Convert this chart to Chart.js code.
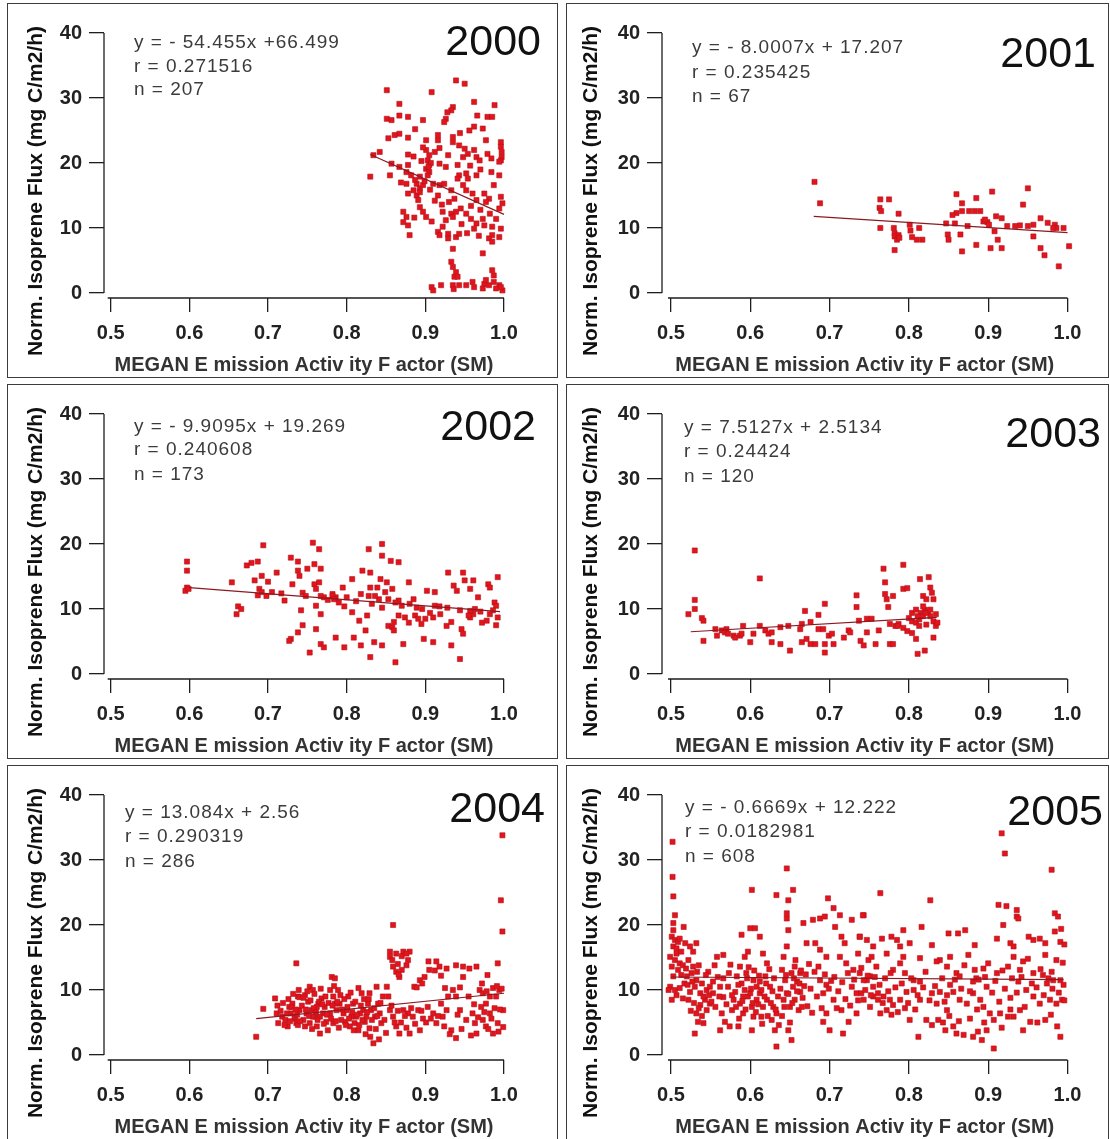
<!DOCTYPE html>
<html>
<head>
<meta charset="utf-8">
<title>Isoprene flux vs MEGAN emission activity factor</title>
<script src="https://cdn.jsdelivr.net/npm/chart.js@4.4.1/dist/chart.umd.min.js"></script>
<style>
body { margin: 0; background: #fff; width: 1110px; height: 1139px; overflow: hidden; position: relative; }
.panel { position: absolute; border: 1px solid #3c3c3c; background: #fff; }
.panel canvas { display: block; }
</style>
</head>
<body>
<script>
// labels
const years = ['2000', '2001', '2002', '2003', '2004', '2005'];
const eqLabels = ['y = - 54.455x +66.499', 'y = - 8.0007x + 17.207', 'y = - 9.9095x + 19.269',
                  'y = 7.5127x + 2.5134', 'y = 13.084x + 2.56', 'y = - 0.6669x + 12.222'];
const rLabels = ['r = 0.271516', 'r = 0.235425', 'r = 0.240608', 'r = 0.24424', 'r = 0.290319', 'r = 0.0182981'];
const nLabels = ['n = 207', 'n = 67', 'n = 173', 'n = 120', 'n = 286', 'n = 608'];
const xTicks = [0.5, 0.6, 0.7, 0.8, 0.9, 1.0];
const yTicks = [0, 10, 20, 30, 40];
const xTitle = 'MEGAN E mission Activ ity F actor (SM)';
const yTitle = 'Norm. Isoprene Flux (mg C/m2/h)';

// regression lines (start / end)
const fit2000 = [[0.83, 21.3], [1.0, 12.1]];
const fit2001 = [[0.68, 11.8], [1.0, 9.3]];
const fit2002 = [[0.6, 13.3], [0.995, 9.6]];
const fit2003 = [[0.525, 6.5], [0.835, 8.7]];
const fit2004 = [[0.685, 5.6], [1.0, 9.5]];
const fit2005 = [[0.5, 12.0], [0.995, 11.6]];

// points [activity factor, flux]
const pts2000 = [[0.939,32.7],[0.950,32.2],[0.851,31.2],[0.908,30.9],[0.867,29.1],[0.935,28.6],[0.933,28.1],[0.962,29.4],[0.988,28.9],[0.867,27.3],[0.878,27.1],[0.926,26.8],[0.924,26.3],[0.966,27.3],[0.979,27.1],[0.985,27.1],[0.851,26.8],[0.857,26.6],[0.962,25.6],[0.973,25.3],[0.867,24.5],[0.861,24.3],[0.853,23.8],[0.878,23.9],[0.901,23.5],[0.916,24.3],[0.916,23.5],[0.935,24.0],[0.935,23.2],[0.977,23.5],[0.996,23.2],[0.996,22.5],[0.997,21.7],[0.997,20.9],[0.996,20.4],[0.834,21.2],[0.842,21.7],[0.878,21.3],[0.901,22.0],[0.905,21.2],[0.903,20.4],[0.905,19.7],[0.901,19.1],[0.905,18.6],[0.903,18.1],[0.918,22.3],[0.912,21.7],[0.929,21.2],[0.943,22.7],[0.950,22.2],[0.954,21.4],[0.948,20.9],[0.962,22.0],[0.965,20.9],[0.969,20.4],[0.979,21.4],[0.984,20.7],[0.994,20.2],[0.857,19.9],[0.867,19.4],[0.876,18.6],[0.882,18.1],[0.893,17.9],[0.830,17.9],[0.855,18.1],[0.878,19.7],[0.918,19.9],[0.926,19.4],[0.941,19.7],[0.952,18.4],[0.943,18.1],[0.941,17.6],[0.954,17.6],[0.965,18.1],[0.984,18.6],[0.994,18.1],[0.876,16.8],[0.889,16.8],[0.893,16.1],[0.897,16.6],[0.910,16.8],[0.918,16.6],[0.924,16.8],[0.878,15.3],[0.889,15.0],[0.893,15.5],[0.891,14.3],[0.916,15.0],[0.933,15.8],[0.937,14.5],[0.948,16.6],[0.952,15.8],[0.960,15.3],[0.965,14.3],[0.975,15.3],[0.981,14.5],[0.977,14.0],[0.996,14.8],[0.998,13.8],[0.994,13.0],[0.872,12.5],[0.876,11.7],[0.872,10.9],[0.878,10.4],[0.893,13.2],[0.897,12.5],[0.901,11.7],[0.922,12.5],[0.926,11.2],[0.933,12.2],[0.939,12.5],[0.935,11.7],[0.958,11.4],[0.965,10.7],[0.962,9.9],[0.973,11.4],[0.975,10.4],[0.985,10.2],[0.996,9.9],[0.985,8.9],[0.994,8.6],[0.880,8.9],[0.916,9.4],[0.918,8.9],[0.929,9.1],[0.929,8.4],[0.939,8.6],[0.943,9.1],[0.981,8.4],[0.985,7.9],[0.935,6.8],[0.973,6.1],[0.933,4.8],[0.935,4.0],[0.939,3.2],[0.937,2.5],[0.941,2.5],[0.985,3.5],[0.987,2.7],[0.908,0.9],[0.910,0.4],[0.920,1.2],[0.935,1.2],[0.943,1.2],[0.960,1.7],[0.962,0.9],[0.975,1.4],[0.981,1.2],[0.987,1.7],[0.994,1.2],[0.998,0.4],[0.973,0.7],[0.977,2.0],[0.996,0.9],
[0.885,21.0],[0.895,20.3],[0.897,22.4],[0.907,20.0],[0.904,19.4],[0.899,17.2],[0.887,17.4],[0.869,17.0],[0.885,15.8],[0.906,15.9],[0.912,14.2],[0.921,13.6],[0.930,14.0],[0.945,13.0],[0.952,12.2],[0.958,13.4],[0.970,12.8],[0.982,12.2],[0.990,11.4],[0.946,10.6],[0.953,9.2],[0.968,8.8],[0.922,10.2],[0.908,11.0],[0.886,11.6],[0.956,25.0],[0.944,24.6],[0.928,27.8],[0.897,26.6],[0.887,25.2],[0.957,19.6],[0.970,19.0],[0.987,16.6],[0.936,0.6],[0.952,1.2],[0.990,0.7]];

const pts2001 = [[0.681,17.1],[0.688,13.8],[0.764,14.4],[0.775,14.4],[0.763,13.1],[0.765,12.6],[0.787,12.2],[0.764,10.0],[0.781,10.0],[0.782,9.2],[0.782,8.7],[0.785,8.2],[0.787,8.9],[0.782,6.6],[0.788,8.5],[0.801,10.5],[0.802,9.6],[0.813,10.0],[0.804,8.6],[0.810,8.2],[0.817,8.2],[0.847,10.7],[0.858,10.7],[0.849,9.0],[0.850,8.2],[0.860,15.2],[0.867,13.8],[0.867,12.6],[0.860,12.3],[0.876,12.6],[0.885,14.6],[0.883,12.6],[0.890,12.6],[0.865,9.0],[0.867,6.4],[0.885,7.4],[0.874,10.3],[0.905,15.6],[0.894,11.0],[0.899,10.9],[0.901,10.5],[0.896,11.3],[0.910,11.8],[0.917,11.5],[0.908,9.5],[0.912,8.2],[0.903,6.9],[0.917,6.9],[0.924,10.3],[0.950,16.1],[0.944,13.6],[0.940,10.4],[0.950,10.3],[0.957,10.5],[0.957,8.7],[0.966,11.5],[0.975,10.8],[0.966,6.9],[0.971,5.8],[0.984,10.5],[0.986,10.0],[0.995,10.0],[0.989,4.1],[1.002,7.2],[0.982,10.0],[0.934,10.3],[0.855,12.0]];

const pts2002 = [[0.597,17.3],[0.597,15.9],[0.597,13.3],[0.595,12.8],[0.599,13.1],[0.654,14.1],[0.662,10.4],[0.666,10.0],[0.660,9.2],[0.694,19.8],[0.673,16.7],[0.679,17.1],[0.687,17.3],[0.683,14.4],[0.692,15.1],[0.700,14.2],[0.689,13.1],[0.692,12.6],[0.687,12.1],[0.698,12.0],[0.711,15.6],[0.721,11.3],[0.729,17.9],[0.738,17.3],[0.738,15.9],[0.740,15.1],[0.750,16.2],[0.759,16.9],[0.767,16.2],[0.731,13.8],[0.744,12.5],[0.759,13.8],[0.761,13.1],[0.765,14.1],[0.757,20.2],[0.765,19.2],[0.742,9.8],[0.744,7.5],[0.738,6.4],[0.729,5.4],[0.727,5.1],[0.761,10.5],[0.767,9.2],[0.761,6.9],[0.767,4.6],[0.771,4.1],[0.753,3.3],[0.771,11.8],[0.782,12.3],[0.786,11.8],[0.790,11.0],[0.795,13.3],[0.807,14.6],[0.820,15.9],[0.830,15.6],[0.786,5.6],[0.797,4.1],[0.809,5.6],[0.818,4.4],[0.807,9.5],[0.816,8.2],[0.824,6.7],[0.835,4.9],[0.830,2.6],[0.818,12.3],[0.828,12.0],[0.830,13.3],[0.839,13.3],[0.832,10.8],[0.841,11.5],[0.849,12.6],[0.858,13.1],[0.853,11.5],[0.828,19.2],[0.845,20.0],[0.845,18.2],[0.856,17.4],[0.866,17.2],[0.843,14.6],[0.851,14.1],[0.845,10.2],[0.853,7.4],[0.858,7.2],[0.860,6.7],[0.845,4.4],[0.862,1.8],[0.866,11.3],[0.870,10.5],[0.866,9.0],[0.874,8.7],[0.879,7.9],[0.879,14.1],[0.885,11.5],[0.889,10.2],[0.887,9.0],[0.891,8.5],[0.895,7.7],[0.900,8.5],[0.872,4.6],[0.898,5.4],[0.910,4.9],[0.902,12.8],[0.912,12.6],[0.912,10.5],[0.910,8.7],[0.919,9.2],[0.927,7.4],[0.933,8.0],[0.933,4.4],[0.944,2.3],[0.929,15.6],[0.936,13.6],[0.940,12.8],[0.948,15.6],[0.950,14.4],[0.957,13.1],[0.961,14.4],[0.967,11.8],[0.946,6.9],[0.948,6.2],[0.957,8.7],[0.961,9.2],[0.972,7.9],[0.978,8.2],[0.980,13.8],[0.982,13.3],[0.988,11.0],[0.992,14.9],[0.990,10.5],[0.992,8.7],[0.990,7.5],[0.957,9.7],[0.963,10.0],[0.982,9.2],[0.767,12.0],[0.782,12.0],[0.784,11.5],
[0.705,12.6],[0.717,12.4],[0.748,12.0],[0.776,11.4],[0.800,11.8],[0.812,11.2],[0.836,12.0],[0.862,11.0],[0.880,10.8],[0.896,10.0],[0.918,10.4],[0.928,10.2],[0.944,9.8],[0.970,9.6],[0.986,9.8],[0.955,9.0],[0.906,9.4],[0.860,8.0],[0.826,9.0],[0.797,10.4]];

const pts2003 = [[0.530,19.0],[0.530,11.4],[0.530,10.0],[0.522,9.2],[0.539,8.6],[0.541,8.2],[0.541,5.1],[0.556,6.9],[0.558,5.9],[0.564,6.7],[0.570,6.9],[0.568,6.4],[0.572,6.2],[0.579,5.9],[0.581,5.6],[0.587,5.9],[0.591,7.4],[0.589,6.2],[0.600,4.9],[0.604,6.2],[0.612,7.4],[0.612,14.7],[0.619,6.7],[0.623,6.2],[0.627,6.4],[0.627,4.9],[0.638,4.6],[0.638,7.2],[0.648,7.4],[0.650,3.6],[0.663,6.9],[0.665,7.7],[0.669,9.7],[0.676,8.0],[0.665,4.9],[0.671,5.4],[0.676,4.6],[0.682,4.6],[0.686,9.1],[0.694,10.8],[0.686,6.9],[0.692,6.9],[0.699,5.9],[0.703,6.2],[0.694,4.6],[0.705,4.6],[0.694,3.3],[0.718,5.6],[0.724,6.7],[0.726,6.4],[0.734,12.1],[0.734,10.3],[0.737,8.2],[0.747,8.5],[0.753,8.5],[0.739,5.1],[0.743,4.4],[0.747,6.4],[0.758,4.6],[0.762,6.7],[0.768,16.2],[0.770,14.1],[0.770,12.3],[0.772,11.5],[0.774,10.3],[0.776,7.7],[0.776,4.6],[0.783,7.4],[0.787,7.7],[0.793,16.8],[0.793,13.1],[0.780,12.0],[0.798,13.2],[0.814,14.6],[0.825,14.9],[0.827,13.3],[0.818,12.0],[0.822,11.5],[0.829,12.5],[0.831,11.5],[0.804,9.4],[0.809,9.9],[0.815,9.4],[0.820,9.9],[0.824,9.6],[0.800,8.6],[0.804,8.1],[0.809,7.9],[0.813,8.4],[0.827,8.9],[0.831,8.1],[0.834,7.4],[0.836,7.9],[0.786,7.4],[0.793,7.1],[0.798,6.6],[0.804,6.3],[0.813,7.4],[0.822,7.6],[0.780,4.6],[0.809,5.4],[0.811,3.1],[0.820,3.6],[0.831,5.6],[0.818,8.9],[0.822,9.4],[0.818,10.4],[0.811,8.9],[0.827,9.9],[0.834,9.2]];

const pts2004 = [[0.685,2.8],[0.694,7.1],[0.709,8.7],[0.711,6.4],[0.713,4.9],[0.718,5.9],[0.722,5.4],[0.725,4.4],[0.727,7.4],[0.729,6.4],[0.734,5.6],[0.736,4.9],[0.738,9.0],[0.731,7.9],[0.736,14.1],[0.730,7.4],[0.734,5.9],[0.738,4.6],[0.740,6.9],[0.747,9.2],[0.751,8.2],[0.753,10.5],[0.757,10.0],[0.755,6.9],[0.760,5.9],[0.762,4.4],[0.764,7.9],[0.768,8.7],[0.770,6.4],[0.774,5.1],[0.776,3.8],[0.766,3.3],[0.781,12.0],[0.785,11.8],[0.779,10.0],[0.783,9.0],[0.789,10.0],[0.791,7.9],[0.787,6.9],[0.796,6.4],[0.798,5.1],[0.802,9.0],[0.804,4.4],[0.808,7.9],[0.812,5.9],[0.815,10.3],[0.819,9.5],[0.815,3.8],[0.821,6.9],[0.823,5.1],[0.827,7.9],[0.829,4.1],[0.834,1.8],[0.836,5.9],[0.838,10.5],[0.840,7.9],[0.829,9.5],[0.851,10.5],[0.853,9.0],[0.855,6.9],[0.859,5.9],[0.863,4.4],[0.867,3.3],[0.855,15.1],[0.859,20.0],[0.855,15.9],[0.863,15.6],[0.872,15.9],[0.880,15.9],[0.859,13.6],[0.863,12.8],[0.870,13.1],[0.876,13.8],[0.878,14.6],[0.867,12.0],[0.872,6.9],[0.878,6.4],[0.884,5.9],[0.891,6.9],[0.897,5.6],[0.893,3.8],[0.880,3.3],[0.886,10.5],[0.893,11.5],[0.899,12.0],[0.905,13.1],[0.914,14.4],[0.918,13.6],[0.927,13.3],[0.910,6.4],[0.914,4.9],[0.922,5.9],[0.927,6.9],[0.920,7.9],[0.929,9.0],[0.925,10.3],[0.935,10.0],[0.939,9.0],[0.933,3.8],[0.939,2.6],[0.939,13.8],[0.948,13.6],[0.956,13.3],[0.965,13.6],[0.979,12.3],[0.948,12.0],[0.944,6.9],[0.952,5.4],[0.960,6.4],[0.963,4.9],[0.965,3.3],[0.969,10.0],[0.973,9.5],[0.977,7.9],[0.982,9.0],[0.986,10.3],[0.990,9.0],[0.994,10.0],[0.999,6.9],[0.992,4.9],[0.982,6.4],[0.971,7.4],[0.973,5.4],[0.977,4.4],[0.986,3.3],[0.992,14.1],[0.996,23.8],[0.998,19.0],[0.998,33.8],[0.740,8.9],[0.745,5.4],[0.749,6.4],[0.753,4.9],[0.757,5.9],[0.762,7.4],[0.766,5.9],[0.772,7.4],[0.779,6.4],[0.783,4.9],[0.785,7.9],[0.793,5.4],[0.800,6.9],[0.806,5.9],[0.810,4.9],[0.817,6.4],[0.825,5.9],[0.831,6.9],[0.842,6.4],[0.844,4.9],[0.846,9.0],[0.999,4.3],[0.997,10.2],[0.995,7.0],
[0.712,7.6],[0.716,6.8],[0.719,8.0],[0.721,4.6],[0.724,6.4],[0.726,8.6],[0.728,5.2],[0.732,9.4],[0.735,7.0],[0.737,6.2],[0.739,10.0],[0.741,5.2],[0.743,7.6],[0.745,8.8],[0.747,4.4],[0.748,7.0],[0.750,9.8],[0.752,6.0],[0.754,8.4],[0.756,4.0],[0.758,7.2],[0.759,9.4],[0.761,6.6],[0.763,5.4],[0.765,8.2],[0.767,10.2],[0.769,7.8],[0.771,4.8],[0.773,9.0],[0.775,6.2],[0.777,8.0],[0.780,5.6],[0.782,7.6],[0.784,10.6],[0.786,5.2],[0.788,8.2],[0.790,4.2],[0.792,9.2],[0.794,7.0],[0.797,8.6],[0.799,4.6],[0.801,7.4],[0.803,5.6],[0.805,9.6],[0.807,6.6],[0.809,3.8],[0.811,8.2],[0.813,6.2],[0.816,4.6],[0.818,7.6],[0.820,5.4],[0.822,8.6],[0.824,3.2],[0.826,6.6],[0.828,8.6],[0.830,2.8],[0.832,5.4],[0.835,7.2],[0.837,4.0],[0.839,6.0],[0.841,2.4],[0.843,8.0],[0.848,5.4],[0.850,3.4],[0.857,7.6],[0.861,5.0],[0.865,6.8],[0.869,5.0],[0.874,6.0],[0.876,4.2],[0.882,7.2],[0.887,4.8],[0.895,6.8],[0.901,5.0],[0.903,7.4],[0.907,5.6],[0.916,6.0],[0.924,4.4],[0.931,3.2],[0.941,6.2],[0.946,4.0],[0.958,3.0],[0.962,7.8],[0.967,5.8],[0.975,6.6],[0.980,4.0],[0.984,5.6],[0.988,7.2],[0.993,3.6],[0.904,14.4],[0.912,13.0],[0.920,12.2],[0.896,11.0],[0.889,10.4],[0.858,14.6],[0.865,14.0],[0.870,15.2],[0.876,15.6],[0.866,12.4],[0.972,11.0],[0.978,9.8],[0.991,10.6],[0.955,9.0],[0.944,10.4]];

const pts2005 = [[0.502,32.8],[0.502,27.4],[0.503,24.4],[0.505,21.5],[0.503,20.3],[0.503,19.2],[0.501,18.2],[0.505,17.7],[0.509,17.4],[0.503,16.7],[0.507,16.4],[0.511,17.9],[0.516,19.7],[0.499,15.1],[0.505,14.6],[0.511,14.1],[0.501,13.6],[0.509,13.1],[0.503,12.1],[0.499,10.5],[0.505,10.0],[0.501,8.5],[0.497,10.0],
[0.518,17.2],[0.524,16.7],[0.528,15.9],[0.532,17.2],[0.522,14.6],[0.528,13.6],[0.526,12.6],[0.520,12.1],[0.532,11.5],[0.530,10.5],[0.524,9.7],[0.537,9.5],[0.522,8.5],
[0.537,7.7],[0.543,8.5],[0.549,7.9],[0.545,6.9],[0.532,6.4],[0.534,5.1],[0.541,4.9],[0.530,3.3],
[0.547,12.8],[0.558,15.1],[0.566,15.4],[0.553,11.3],[0.562,10.5],[0.553,9.5],[0.566,8.9],
[0.564,6.4],[0.568,5.1],[0.562,3.8],[0.577,6.9],[0.579,8.5],[0.574,4.4],
[0.589,18.5],[0.600,19.5],[0.606,19.5],[0.612,18.2],[0.597,15.9],[0.593,15.1],[0.587,13.6],[0.583,12.1],[0.589,11.0],[0.593,10.0],[0.597,9.0],[0.587,7.9],[0.602,7.4],[0.608,8.5],[0.612,9.5],[0.591,6.4],[0.604,5.9],[0.585,4.4],[0.602,3.8],
[0.602,25.4],
[0.616,15.6],[0.621,14.1],[0.619,12.1],[0.625,10.5],[0.621,8.5],[0.629,7.4],[0.633,6.4],[0.627,5.4],[0.631,3.8],[0.633,1.3],[0.616,7.4],[0.614,5.9],
[0.633,24.6],[0.642,15.1],[0.646,16.7],[0.640,13.1],[0.644,11.5],[0.646,9.5],[0.642,8.5],[0.648,3.8],[0.652,2.3],
[0.646,28.7],[0.654,25.4],[0.648,23.8],[0.646,21.8],[0.646,21.0],[0.648,19.2],
[0.652,12.6],[0.656,13.6],[0.663,12.6],[0.659,11.3],[0.654,10.5],[0.663,9.7],[0.656,8.5],[0.661,6.9],[0.665,7.4],[0.650,7.4],
[0.667,20.3],[0.679,20.8],[0.688,21.0],[0.694,21.3],[0.671,17.2],[0.682,17.2],[0.688,16.2],[0.696,15.1],
[0.698,24.1],[0.705,22.6],[0.713,21.5],[0.707,19.7],[0.715,18.2],[0.719,17.2],[0.728,20.8],[0.743,21.5],
[0.688,11.5],[0.696,10.8],[0.692,9.5],[0.705,8.5],[0.715,6.9],[0.696,6.4],[0.692,5.1],[0.700,3.8],[0.717,3.3],[0.724,5.1],
[0.713,15.1],[0.721,14.1],[0.730,13.1],[0.738,12.6],[0.747,11.5],[0.755,10.5],[0.734,9.5],[0.743,8.5],[0.751,7.4],[0.734,6.4],[0.728,10.5],[0.761,9.5],
[0.736,15.6],[0.738,18.2],[0.747,17.7],[0.749,14.6],
[0.595,12.6],[0.604,11.5],[0.608,10.5],[0.600,9.5],[0.612,11.3],[0.591,9.0],[0.581,9.7],[0.572,10.5],
[0.539,11.0],[0.545,10.0],[0.541,9.0],[0.549,10.5],
[0.917,34.1],[0.921,31.0],[0.980,28.5],[0.764,24.9],[0.827,23.8],[0.913,23.1],[0.923,22.9],[0.936,22.3],[0.936,21.3],[0.938,21.0],[0.984,21.8],[0.988,21.3],[0.742,21.5],
[0.816,19.7],[0.793,19.2],[0.850,18.7],[0.862,18.7],[0.871,19.2],[0.919,20.0],
[0.984,19.0],[0.991,17.4],[0.911,17.9],[0.928,17.2],[0.932,16.7],[0.951,18.2],[0.957,17.7],[0.965,17.9],[0.972,17.2],
[0.738,18.2],[0.755,16.7],[0.766,17.9],[0.778,18.2],[0.785,17.7],[0.789,16.7],[0.801,17.2],[0.829,16.9],[0.883,16.9],
[0.753,15.1],[0.772,15.6],[0.793,15.1],[0.814,14.9],[0.839,14.6],[0.852,15.1],[0.875,15.4],[0.900,14.1],[0.932,15.1],[0.944,14.4],[0.972,15.4],[0.986,14.6],
[0.759,13.6],[0.780,13.1],[0.789,14.1],[0.835,14.4],[0.848,13.6],[0.860,12.6],[0.883,13.1],[0.894,13.3],[0.911,12.6],[0.925,13.6],[0.940,13.1],[0.957,12.6],[0.969,12.3],[0.980,12.8],[0.991,11.5],
[0.743,11.5],[0.751,12.1],[0.806,11.5],[0.814,11.3],[0.864,12.1],[0.881,11.3],[0.885,11.8],[0.938,11.3],[0.974,11.0],[0.982,11.5],
[0.740,9.5],[0.755,9.0],[0.761,8.5],[0.768,9.0],[0.776,8.5],[0.780,7.7],[0.789,8.5],[0.797,9.7],[0.806,10.0],[0.764,6.4],[0.772,6.9],[0.778,6.2],[0.795,7.2],[0.801,5.4],[0.814,8.5],
[0.829,9.5],[0.839,9.7],[0.848,9.2],[0.856,9.7],[0.835,7.9],[0.848,6.9],[0.864,8.5],[0.873,7.9],[0.881,9.5],[0.890,8.5],[0.898,10.5],[0.894,7.4],[0.902,6.4],
[0.822,5.4],[0.829,4.6],[0.837,5.4],[0.846,3.8],[0.856,4.4],[0.860,3.3],[0.869,3.1],[0.881,2.8],[0.892,2.3],[0.898,3.8],[0.907,5.4],[0.915,6.4],[0.925,5.9],[0.932,5.9],[0.940,6.9],[0.907,1.0],[0.812,2.8],
[0.948,10.0],[0.957,9.0],[0.965,7.9],[0.978,8.5],[0.986,7.9],[0.993,8.5],[0.944,3.8],[0.953,5.1],[0.972,5.4],[0.991,2.8],
[0.507,15.6],[0.513,15.9],[0.515,13.8],[0.519,13.3],[0.513,12.3],[0.517,11.0],[0.511,10.3],[0.507,9.2],[0.515,8.7],[0.521,10.8],[0.527,11.3],[0.533,12.8],[0.535,13.8],[0.529,8.0],[0.535,7.2],[0.525,6.8],[0.539,6.0],[0.544,12.3],[0.548,9.2],[0.551,8.2],[0.556,7.4],[0.559,12.0],[0.555,13.8],[0.561,9.0],[0.566,11.8],[0.570,7.8],[0.573,12.6],[0.577,9.2],[0.575,13.9],[0.582,7.4],[0.585,10.8],[0.586,5.6],[0.590,8.3],[0.594,7.0],[0.596,11.8],[0.598,13.5],[0.601,10.2],[0.603,8.0],[0.605,13.0],[0.607,6.6],[0.610,7.8],[0.611,12.2],[0.614,10.0],[0.615,4.8],[0.618,9.0],[0.620,11.0],[0.622,6.0],[0.624,13.2],[0.626,8.0],[0.628,9.8],[0.630,11.8],[0.632,7.0],[0.635,9.0],[0.636,4.6],[0.638,10.2],[0.640,6.0],[0.643,7.4],[0.645,12.3],[0.648,9.4],[0.650,5.0],[0.653,8.0],[0.655,11.8],[0.657,14.6],[0.659,9.8],[0.662,11.0],[0.664,13.0],[0.666,8.8],[0.668,10.6],[0.670,12.4],[0.672,7.5],[0.674,14.0],[0.676,10.2],[0.678,6.5],[0.681,12.8],[0.684,9.0],[0.686,13.6],[0.690,7.2],[0.694,12.4],[0.699,10.2],[0.702,11.4],[0.706,12.0],[0.709,7.2],[0.711,9.8],[0.716,11.2],[0.720,8.6],[0.723,12.6],[0.726,7.6],[0.731,11.6],[0.736,8.4],[0.740,13.4],[0.745,10.0],[0.748,12.2],[0.752,9.2],[0.757,12.0],[0.763,10.8],[0.767,8.0],[0.770,11.8],[0.774,9.8],[0.777,12.6],[0.783,10.4],[0.786,6.6],[0.791,11.0],[0.795,12.6],[0.799,8.0],[0.803,11.8],[0.808,7.0],[0.811,9.2],[0.818,10.4],[0.821,12.8],[0.826,8.4],[0.833,10.6],[0.842,11.8],[0.845,8.2],[0.852,10.8],[0.858,11.6],[0.866,10.2],[0.870,13.8],[0.877,9.8],[0.886,7.0],[0.888,11.6],[0.896,12.0],[0.905,9.6],[0.909,11.4],[0.914,8.2],[0.918,13.0],[0.921,10.2],[0.928,8.8],[0.930,11.8],[0.936,9.6],[0.942,12.0],[0.946,7.4],[0.950,14.8],[0.955,11.0],[0.961,10.4],[0.966,13.2],[0.970,9.2],[0.976,11.8],[0.981,10.2],[0.989,9.6],[0.995,10.8],[0.996,8.4],[0.994,14.2],[0.996,17.0],[0.992,19.4],[0.895,5.0],[0.877,5.6],[0.887,3.6],[0.863,5.2],[0.851,6.0],[0.843,5.0],[0.917,4.2],[0.928,7.0],[0.962,5.0],[0.979,6.2],[0.987,4.4]];

const allPts = [pts2000, pts2001, pts2002, pts2003, pts2004, pts2005];
const allFits = [fit2000, fit2001, fit2002, fit2003, fit2004, fit2005];

// page layout (two columns, three rows of framed panels)
const cols = [
  { left: 7,   w: 551, axisW: 96, xMin: 0.4915, padR: 53,   yTitleX: 28 },
  { left: 566, w: 543, axisW: 95, xMin: 0.4887, padR: 40.5, yTitleX: 24 }
];
const rowTops = [3, 384, 765];
const panelH = 375;
// where the equation block and the year sit inside each canvas
const textPos = [
  { ax: 126, ay: [39, 63, 86], yrX: 533, yrY: 39 },
  { ax: 125, ay: [44, 69, 93], yrX: 529, yrY: 51 },
  { ax: 126, ay: [42, 65, 90], yrX: 528, yrY: 43 },
  { ax: 117, ay: [43, 67, 92], yrX: 534, yrY: 50 },
  { ax: 117, ay: [47, 71, 96], yrX: 537, yrY: 44 },
  { ax: 118, ay: [42, 66, 91], yrX: 536, yrY: 47 }
];

const FONT = '"Liberation Sans", Arial, Helvetica, sans-serif';
Chart.defaults.font.family = FONT;

const panelText = {
  id: 'panelText',
  afterDraw(chart, args, o) {
    const { ctx, chartArea } = chart;
    const xs = chart.scales.x, ys = chart.scales.y;
    ctx.save();
    // axis lines only over the tick range, like the original
    ctx.strokeStyle = '#1e1e1e';
    ctx.lineWidth = 1.3;
    ctx.beginPath();
    ctx.moveTo(chartArea.left, ys.getPixelForValue(yTicks[yTicks.length - 1]));
    ctx.lineTo(chartArea.left, ys.getPixelForValue(yTicks[0]));
    ctx.moveTo(xs.getPixelForValue(xTicks[0]) - 3, chartArea.bottom);
    ctx.lineTo(xs.getPixelForValue(xTicks[xTicks.length - 1]), chartArea.bottom);
    ctx.stroke();

    // equation, r, n
    ctx.fillStyle = '#3b3b3b';
    ctx.font = '19px ' + FONT;
    ctx.textAlign = 'left';
    ctx.textBaseline = 'middle';
    if ('letterSpacing' in ctx) ctx.letterSpacing = '1px';
    o.lines.forEach((t, k) => ctx.fillText(t, o.ax, o.ay[k]));
    if ('letterSpacing' in ctx) ctx.letterSpacing = '0px';

    // year
    ctx.fillStyle = '#111';
    ctx.font = '43px ' + FONT;
    ctx.textAlign = 'right';
    ctx.fillText(o.year, o.yrX, o.yrY);

    // y axis title
    ctx.translate(o.yTitleX, 187);
    ctx.rotate(-Math.PI / 2);
    ctx.font = 'bold 21px ' + FONT;
    ctx.textAlign = 'center';
    ctx.fillStyle = '#111';
    ctx.fillText(yTitle, 0, 0);
    ctx.restore();
  }
};

years.forEach((yr, i) => {
  const c = cols[i % 2];
  const tp = textPos[i];
  const div = document.createElement('div');
  div.className = 'panel';
  div.style.left = c.left + 'px';
  div.style.top = rowTops[Math.floor(i / 2)] + 'px';
  div.style.width = (c.w - 2) + 'px';
  div.style.height = (panelH - 2) + 'px';
  const cv = document.createElement('canvas');
  cv.width = c.w - 2;
  cv.height = panelH - 2;
  div.appendChild(cv);
  document.body.appendChild(div);

  new Chart(cv, {
    type: 'scatter',
    data: {
      datasets: [
        {
          // regression line on top of the points
          data: allFits[i].map(([x, y]) => ({ x, y })),
          showLine: true,
          borderColor: '#8a1a20',
          borderWidth: 1.2,
          pointRadius: 0,
          clip: false
        },
        {
          data: allPts[i].map(([x, y]) => ({ x, y })),
          pointStyle: 'rect',
          pointRadius: 3.6,
          backgroundColor: '#e3141b',
          borderColor: '#b3121c',
          borderWidth: 0.6,
          clip: false
        }
      ]
    },
    options: {
      responsive: false,
      animation: false,
      events: [],
      layout: { padding: { left: 0, top: 29, right: c.padR, bottom: 0 } },
      plugins: {
        legend: { display: false },
        tooltip: { enabled: false },
        panelText: {
          year: yr,
          lines: [eqLabels[i], rLabels[i], nLabels[i]],
          ax: tp.ax, ay: tp.ay, yrX: tp.yrX, yrY: tp.yrY,
          yTitleX: c.yTitleX
        }
      },
      scales: {
        x: {
          type: 'linear',
          min: c.xMin,
          max: 1.0,
          afterBuildTicks: s => { s.ticks = xTicks.map(v => ({ value: v })); },
          afterFit: s => { s.height = 79; },
          border: { display: false },
          grid: { drawOnChartArea: false, drawTicks: true, tickLength: 14, color: '#1e1e1e', lineWidth: 1.3 },
          ticks: {
            padding: 9, color: '#222', maxRotation: 0, autoSkip: false,
            font: { size: 20, weight: 'bold' },
            callback: v => Number(v).toFixed(1)
          },
          title: { display: true, text: xTitle, color: '#333', font: { size: 20, weight: 'bold' }, padding: 0 }
        },
        y: {
          type: 'linear',
          min: -0.77,
          max: 40,
          afterBuildTicks: s => { s.ticks = yTicks.map(v => ({ value: v })); },
          afterFit: s => { s.width = c.axisW; },
          border: { display: false },
          grid: { drawOnChartArea: false, drawTicks: true, tickLength: 15, color: '#1e1e1e', lineWidth: 1.3 },
          ticks: { padding: 7, color: '#222', font: { size: 20, weight: 'bold' } }
        }
      }
    },
    plugins: [panelText]
  });
});
</script>
</body>
</html>
